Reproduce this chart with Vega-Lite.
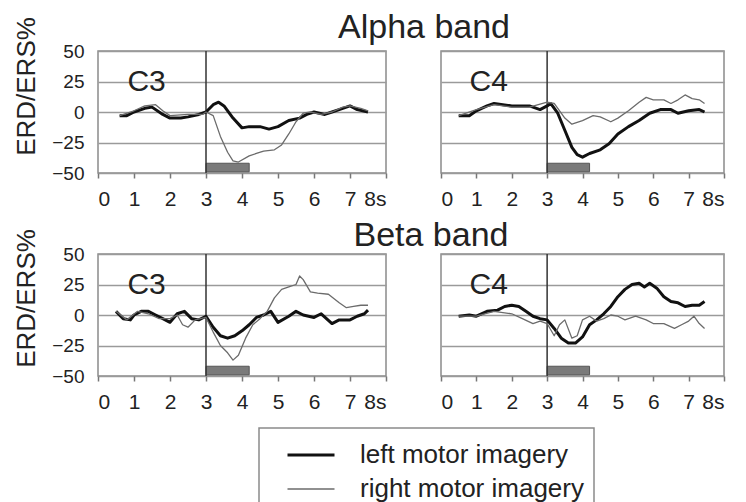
{
  "$schema": "https://vega.github.io/schema/vega-lite/v6.json",
  "padding": {"left": 12, "top": 9, "right": 0, "bottom": 0},
  "background": "white",
  "config": {
    "font": "Liberation Sans",
    "view": {"stroke": "#8a8a8a", "strokeWidth": 1.5},
    "axis": {"labelFont": "Liberation Sans", "titleFont": "Liberation Sans", "labelColor": "#222", "titleColor": "#222", "domain": false, "titleFontWeight": "normal", "labelOverlap": false},
    "axisX": {"grid": false, "tickSize": 5, "tickColor": "#777", "tickWidth": 1.5, "labelFontSize": 21, "labelPadding": 10, "labelExpr": "datum.value == 8 ? '8s' : datum.label"},
    "axisY": {"grid": true, "gridColor": "#9a9a9a", "gridWidth": 1.5, "ticks": false, "labelFontSize": 19, "labelPadding": 14},
    "legend": {
      "orient": "none", "legendX": 161, "legendY": 377,
      "strokeColor": "#8a8a8a", "strokeWidth": 1.5, "padding": 10,
      "symbolType": "stroke", "symbolSize": 2209, "symbolOffset": 17,
      "clipHeight": 34, "rowPadding": 0, "labelOffset": 24,
      "labelFontSize": 26, "labelFont": "Liberation Sans", "labelColor": "#222",
      "labelLimit": 400, "title": null
    }
  },
  "datasets": {
    "erd": [
      {"band":"A","ch":"C3","type":"left motor imagery","t":0.6,"v":-3},
      {"band":"A","ch":"C3","type":"left motor imagery","t":0.8,"v":-3},
      {"band":"A","ch":"C3","type":"left motor imagery","t":1.0,"v":0},
      {"band":"A","ch":"C3","type":"left motor imagery","t":1.3,"v":3},
      {"band":"A","ch":"C3","type":"left motor imagery","t":1.5,"v":4},
      {"band":"A","ch":"C3","type":"left motor imagery","t":1.8,"v":-2},
      {"band":"A","ch":"C3","type":"left motor imagery","t":2.0,"v":-5},
      {"band":"A","ch":"C3","type":"left motor imagery","t":2.3,"v":-5},
      {"band":"A","ch":"C3","type":"left motor imagery","t":2.5,"v":-4},
      {"band":"A","ch":"C3","type":"left motor imagery","t":2.8,"v":-2},
      {"band":"A","ch":"C3","type":"left motor imagery","t":3.0,"v":0},
      {"band":"A","ch":"C3","type":"left motor imagery","t":3.2,"v":6},
      {"band":"A","ch":"C3","type":"left motor imagery","t":3.35,"v":8},
      {"band":"A","ch":"C3","type":"left motor imagery","t":3.5,"v":5},
      {"band":"A","ch":"C3","type":"left motor imagery","t":3.75,"v":-5},
      {"band":"A","ch":"C3","type":"left motor imagery","t":4.0,"v":-13},
      {"band":"A","ch":"C3","type":"left motor imagery","t":4.2,"v":-12},
      {"band":"A","ch":"C3","type":"left motor imagery","t":4.5,"v":-12},
      {"band":"A","ch":"C3","type":"left motor imagery","t":4.75,"v":-14},
      {"band":"A","ch":"C3","type":"left motor imagery","t":5.0,"v":-12},
      {"band":"A","ch":"C3","type":"left motor imagery","t":5.3,"v":-7},
      {"band":"A","ch":"C3","type":"left motor imagery","t":5.6,"v":-5},
      {"band":"A","ch":"C3","type":"left motor imagery","t":5.8,"v":-2},
      {"band":"A","ch":"C3","type":"left motor imagery","t":6.0,"v":0},
      {"band":"A","ch":"C3","type":"left motor imagery","t":6.3,"v":-2},
      {"band":"A","ch":"C3","type":"left motor imagery","t":6.5,"v":0},
      {"band":"A","ch":"C3","type":"left motor imagery","t":6.8,"v":3},
      {"band":"A","ch":"C3","type":"left motor imagery","t":7.0,"v":5},
      {"band":"A","ch":"C3","type":"left motor imagery","t":7.2,"v":2},
      {"band":"A","ch":"C3","type":"left motor imagery","t":7.5,"v":0},

      {"band":"A","ch":"C3","type":"right motor imagery","t":0.6,"v":-3},
      {"band":"A","ch":"C3","type":"right motor imagery","t":1.0,"v":1},
      {"band":"A","ch":"C3","type":"right motor imagery","t":1.3,"v":5},
      {"band":"A","ch":"C3","type":"right motor imagery","t":1.6,"v":6},
      {"band":"A","ch":"C3","type":"right motor imagery","t":1.8,"v":1},
      {"band":"A","ch":"C3","type":"right motor imagery","t":2.0,"v":-3},
      {"band":"A","ch":"C3","type":"right motor imagery","t":2.5,"v":-2},
      {"band":"A","ch":"C3","type":"right motor imagery","t":2.9,"v":-2},
      {"band":"A","ch":"C3","type":"right motor imagery","t":3.0,"v":0},
      {"band":"A","ch":"C3","type":"right motor imagery","t":3.2,"v":-3},
      {"band":"A","ch":"C3","type":"right motor imagery","t":3.4,"v":-20},
      {"band":"A","ch":"C3","type":"right motor imagery","t":3.6,"v":-33},
      {"band":"A","ch":"C3","type":"right motor imagery","t":3.75,"v":-40},
      {"band":"A","ch":"C3","type":"right motor imagery","t":3.9,"v":-41},
      {"band":"A","ch":"C3","type":"right motor imagery","t":4.2,"v":-36},
      {"band":"A","ch":"C3","type":"right motor imagery","t":4.4,"v":-34},
      {"band":"A","ch":"C3","type":"right motor imagery","t":4.6,"v":-32},
      {"band":"A","ch":"C3","type":"right motor imagery","t":4.9,"v":-31},
      {"band":"A","ch":"C3","type":"right motor imagery","t":5.1,"v":-27},
      {"band":"A","ch":"C3","type":"right motor imagery","t":5.3,"v":-18},
      {"band":"A","ch":"C3","type":"right motor imagery","t":5.5,"v":-8},
      {"band":"A","ch":"C3","type":"right motor imagery","t":5.7,"v":-1},
      {"band":"A","ch":"C3","type":"right motor imagery","t":5.9,"v":0},
      {"band":"A","ch":"C3","type":"right motor imagery","t":6.2,"v":-2},
      {"band":"A","ch":"C3","type":"right motor imagery","t":6.5,"v":0},
      {"band":"A","ch":"C3","type":"right motor imagery","t":6.8,"v":4},
      {"band":"A","ch":"C3","type":"right motor imagery","t":7.0,"v":5},
      {"band":"A","ch":"C3","type":"right motor imagery","t":7.3,"v":3},
      {"band":"A","ch":"C3","type":"right motor imagery","t":7.5,"v":1},

      {"band":"A","ch":"C4","type":"left motor imagery","t":0.5,"v":-3},
      {"band":"A","ch":"C4","type":"left motor imagery","t":0.8,"v":-3},
      {"band":"A","ch":"C4","type":"left motor imagery","t":1.0,"v":1},
      {"band":"A","ch":"C4","type":"left motor imagery","t":1.3,"v":5},
      {"band":"A","ch":"C4","type":"left motor imagery","t":1.5,"v":7},
      {"band":"A","ch":"C4","type":"left motor imagery","t":2.0,"v":5},
      {"band":"A","ch":"C4","type":"left motor imagery","t":2.5,"v":5},
      {"band":"A","ch":"C4","type":"left motor imagery","t":2.8,"v":2},
      {"band":"A","ch":"C4","type":"left motor imagery","t":3.0,"v":5},
      {"band":"A","ch":"C4","type":"left motor imagery","t":3.1,"v":7},
      {"band":"A","ch":"C4","type":"left motor imagery","t":3.3,"v":-1},
      {"band":"A","ch":"C4","type":"left motor imagery","t":3.5,"v":-15},
      {"band":"A","ch":"C4","type":"left motor imagery","t":3.7,"v":-29},
      {"band":"A","ch":"C4","type":"left motor imagery","t":3.85,"v":-35},
      {"band":"A","ch":"C4","type":"left motor imagery","t":4.0,"v":-37},
      {"band":"A","ch":"C4","type":"left motor imagery","t":4.2,"v":-34},
      {"band":"A","ch":"C4","type":"left motor imagery","t":4.5,"v":-31},
      {"band":"A","ch":"C4","type":"left motor imagery","t":4.75,"v":-26},
      {"band":"A","ch":"C4","type":"left motor imagery","t":5.0,"v":-18},
      {"band":"A","ch":"C4","type":"left motor imagery","t":5.3,"v":-12},
      {"band":"A","ch":"C4","type":"left motor imagery","t":5.6,"v":-7},
      {"band":"A","ch":"C4","type":"left motor imagery","t":5.9,"v":-1},
      {"band":"A","ch":"C4","type":"left motor imagery","t":6.2,"v":2},
      {"band":"A","ch":"C4","type":"left motor imagery","t":6.5,"v":2},
      {"band":"A","ch":"C4","type":"left motor imagery","t":6.7,"v":-1},
      {"band":"A","ch":"C4","type":"left motor imagery","t":7.0,"v":1},
      {"band":"A","ch":"C4","type":"left motor imagery","t":7.3,"v":2},
      {"band":"A","ch":"C4","type":"left motor imagery","t":7.45,"v":0},

      {"band":"A","ch":"C4","type":"right motor imagery","t":0.5,"v":-3},
      {"band":"A","ch":"C4","type":"right motor imagery","t":1.0,"v":2},
      {"band":"A","ch":"C4","type":"right motor imagery","t":1.5,"v":6},
      {"band":"A","ch":"C4","type":"right motor imagery","t":2.0,"v":4},
      {"band":"A","ch":"C4","type":"right motor imagery","t":2.5,"v":4},
      {"band":"A","ch":"C4","type":"right motor imagery","t":3.0,"v":8},
      {"band":"A","ch":"C4","type":"right motor imagery","t":3.2,"v":7},
      {"band":"A","ch":"C4","type":"right motor imagery","t":3.5,"v":-5},
      {"band":"A","ch":"C4","type":"right motor imagery","t":3.7,"v":-10},
      {"band":"A","ch":"C4","type":"right motor imagery","t":4.0,"v":-7},
      {"band":"A","ch":"C4","type":"right motor imagery","t":4.3,"v":-3},
      {"band":"A","ch":"C4","type":"right motor imagery","t":4.5,"v":-4},
      {"band":"A","ch":"C4","type":"right motor imagery","t":4.8,"v":-8},
      {"band":"A","ch":"C4","type":"right motor imagery","t":5.0,"v":-5},
      {"band":"A","ch":"C4","type":"right motor imagery","t":5.3,"v":1},
      {"band":"A","ch":"C4","type":"right motor imagery","t":5.6,"v":8},
      {"band":"A","ch":"C4","type":"right motor imagery","t":5.8,"v":12},
      {"band":"A","ch":"C4","type":"right motor imagery","t":6.0,"v":10},
      {"band":"A","ch":"C4","type":"right motor imagery","t":6.3,"v":10},
      {"band":"A","ch":"C4","type":"right motor imagery","t":6.5,"v":7},
      {"band":"A","ch":"C4","type":"right motor imagery","t":6.7,"v":10},
      {"band":"A","ch":"C4","type":"right motor imagery","t":6.9,"v":14},
      {"band":"A","ch":"C4","type":"right motor imagery","t":7.1,"v":11},
      {"band":"A","ch":"C4","type":"right motor imagery","t":7.3,"v":10},
      {"band":"A","ch":"C4","type":"right motor imagery","t":7.45,"v":7},

      {"band":"B","ch":"C3","type":"left motor imagery","t":0.5,"v":3},
      {"band":"B","ch":"C3","type":"left motor imagery","t":0.7,"v":-3},
      {"band":"B","ch":"C3","type":"left motor imagery","t":0.9,"v":-4},
      {"band":"B","ch":"C3","type":"left motor imagery","t":1.0,"v":0},
      {"band":"B","ch":"C3","type":"left motor imagery","t":1.2,"v":3},
      {"band":"B","ch":"C3","type":"left motor imagery","t":1.4,"v":3},
      {"band":"B","ch":"C3","type":"left motor imagery","t":1.6,"v":0},
      {"band":"B","ch":"C3","type":"left motor imagery","t":1.8,"v":-3},
      {"band":"B","ch":"C3","type":"left motor imagery","t":2.0,"v":-6},
      {"band":"B","ch":"C3","type":"left motor imagery","t":2.2,"v":1},
      {"band":"B","ch":"C3","type":"left motor imagery","t":2.4,"v":3},
      {"band":"B","ch":"C3","type":"left motor imagery","t":2.6,"v":-3},
      {"band":"B","ch":"C3","type":"left motor imagery","t":2.8,"v":-4},
      {"band":"B","ch":"C3","type":"left motor imagery","t":3.0,"v":-1},
      {"band":"B","ch":"C3","type":"left motor imagery","t":3.2,"v":-10},
      {"band":"B","ch":"C3","type":"left motor imagery","t":3.4,"v":-17},
      {"band":"B","ch":"C3","type":"left motor imagery","t":3.6,"v":-19},
      {"band":"B","ch":"C3","type":"left motor imagery","t":3.8,"v":-17},
      {"band":"B","ch":"C3","type":"left motor imagery","t":4.0,"v":-13},
      {"band":"B","ch":"C3","type":"left motor imagery","t":4.2,"v":-8},
      {"band":"B","ch":"C3","type":"left motor imagery","t":4.4,"v":-2},
      {"band":"B","ch":"C3","type":"left motor imagery","t":4.6,"v":0},
      {"band":"B","ch":"C3","type":"left motor imagery","t":4.8,"v":3},
      {"band":"B","ch":"C3","type":"left motor imagery","t":5.0,"v":-6},
      {"band":"B","ch":"C3","type":"left motor imagery","t":5.3,"v":-1},
      {"band":"B","ch":"C3","type":"left motor imagery","t":5.5,"v":3},
      {"band":"B","ch":"C3","type":"left motor imagery","t":5.7,"v":0},
      {"band":"B","ch":"C3","type":"left motor imagery","t":6.0,"v":-2},
      {"band":"B","ch":"C3","type":"left motor imagery","t":6.2,"v":1},
      {"band":"B","ch":"C3","type":"left motor imagery","t":6.5,"v":-7},
      {"band":"B","ch":"C3","type":"left motor imagery","t":6.7,"v":-4},
      {"band":"B","ch":"C3","type":"left motor imagery","t":7.0,"v":-4},
      {"band":"B","ch":"C3","type":"left motor imagery","t":7.2,"v":-1},
      {"band":"B","ch":"C3","type":"left motor imagery","t":7.4,"v":1},
      {"band":"B","ch":"C3","type":"left motor imagery","t":7.5,"v":4},

      {"band":"B","ch":"C3","type":"right motor imagery","t":0.5,"v":3},
      {"band":"B","ch":"C3","type":"right motor imagery","t":0.8,"v":-4},
      {"band":"B","ch":"C3","type":"right motor imagery","t":1.1,"v":3},
      {"band":"B","ch":"C3","type":"right motor imagery","t":1.4,"v":1},
      {"band":"B","ch":"C3","type":"right motor imagery","t":1.7,"v":-3},
      {"band":"B","ch":"C3","type":"right motor imagery","t":2.0,"v":-3},
      {"band":"B","ch":"C3","type":"right motor imagery","t":2.2,"v":0},
      {"band":"B","ch":"C3","type":"right motor imagery","t":2.35,"v":-8},
      {"band":"B","ch":"C3","type":"right motor imagery","t":2.5,"v":-10},
      {"band":"B","ch":"C3","type":"right motor imagery","t":2.7,"v":-4},
      {"band":"B","ch":"C3","type":"right motor imagery","t":3.0,"v":-2},
      {"band":"B","ch":"C3","type":"right motor imagery","t":3.2,"v":-14},
      {"band":"B","ch":"C3","type":"right motor imagery","t":3.4,"v":-25},
      {"band":"B","ch":"C3","type":"right motor imagery","t":3.6,"v":-31},
      {"band":"B","ch":"C3","type":"right motor imagery","t":3.75,"v":-37},
      {"band":"B","ch":"C3","type":"right motor imagery","t":3.9,"v":-33},
      {"band":"B","ch":"C3","type":"right motor imagery","t":4.1,"v":-19},
      {"band":"B","ch":"C3","type":"right motor imagery","t":4.3,"v":-8},
      {"band":"B","ch":"C3","type":"right motor imagery","t":4.5,"v":-3},
      {"band":"B","ch":"C3","type":"right motor imagery","t":4.7,"v":3},
      {"band":"B","ch":"C3","type":"right motor imagery","t":4.9,"v":14},
      {"band":"B","ch":"C3","type":"right motor imagery","t":5.1,"v":21},
      {"band":"B","ch":"C3","type":"right motor imagery","t":5.3,"v":23},
      {"band":"B","ch":"C3","type":"right motor imagery","t":5.5,"v":25},
      {"band":"B","ch":"C3","type":"right motor imagery","t":5.6,"v":32},
      {"band":"B","ch":"C3","type":"right motor imagery","t":5.7,"v":29},
      {"band":"B","ch":"C3","type":"right motor imagery","t":5.9,"v":19},
      {"band":"B","ch":"C3","type":"right motor imagery","t":6.1,"v":18},
      {"band":"B","ch":"C3","type":"right motor imagery","t":6.4,"v":17},
      {"band":"B","ch":"C3","type":"right motor imagery","t":6.7,"v":10},
      {"band":"B","ch":"C3","type":"right motor imagery","t":6.9,"v":6},
      {"band":"B","ch":"C3","type":"right motor imagery","t":7.1,"v":7},
      {"band":"B","ch":"C3","type":"right motor imagery","t":7.3,"v":8},
      {"band":"B","ch":"C3","type":"right motor imagery","t":7.5,"v":8},

      {"band":"B","ch":"C4","type":"left motor imagery","t":0.5,"v":-1},
      {"band":"B","ch":"C4","type":"left motor imagery","t":0.8,"v":0},
      {"band":"B","ch":"C4","type":"left motor imagery","t":1.0,"v":-1},
      {"band":"B","ch":"C4","type":"left motor imagery","t":1.3,"v":3},
      {"band":"B","ch":"C4","type":"left motor imagery","t":1.6,"v":4},
      {"band":"B","ch":"C4","type":"left motor imagery","t":1.8,"v":7},
      {"band":"B","ch":"C4","type":"left motor imagery","t":2.0,"v":8},
      {"band":"B","ch":"C4","type":"left motor imagery","t":2.2,"v":7},
      {"band":"B","ch":"C4","type":"left motor imagery","t":2.4,"v":3},
      {"band":"B","ch":"C4","type":"left motor imagery","t":2.6,"v":-1},
      {"band":"B","ch":"C4","type":"left motor imagery","t":2.8,"v":-3},
      {"band":"B","ch":"C4","type":"left motor imagery","t":3.0,"v":-4},
      {"band":"B","ch":"C4","type":"left motor imagery","t":3.2,"v":-11},
      {"band":"B","ch":"C4","type":"left motor imagery","t":3.4,"v":-19},
      {"band":"B","ch":"C4","type":"left motor imagery","t":3.6,"v":-23},
      {"band":"B","ch":"C4","type":"left motor imagery","t":3.8,"v":-23},
      {"band":"B","ch":"C4","type":"left motor imagery","t":4.0,"v":-18},
      {"band":"B","ch":"C4","type":"left motor imagery","t":4.2,"v":-8},
      {"band":"B","ch":"C4","type":"left motor imagery","t":4.4,"v":-4},
      {"band":"B","ch":"C4","type":"left motor imagery","t":4.6,"v":1},
      {"band":"B","ch":"C4","type":"left motor imagery","t":4.8,"v":7},
      {"band":"B","ch":"C4","type":"left motor imagery","t":5.0,"v":15},
      {"band":"B","ch":"C4","type":"left motor imagery","t":5.2,"v":21},
      {"band":"B","ch":"C4","type":"left motor imagery","t":5.4,"v":25},
      {"band":"B","ch":"C4","type":"left motor imagery","t":5.6,"v":26},
      {"band":"B","ch":"C4","type":"left motor imagery","t":5.75,"v":23},
      {"band":"B","ch":"C4","type":"left motor imagery","t":5.9,"v":26},
      {"band":"B","ch":"C4","type":"left motor imagery","t":6.1,"v":22},
      {"band":"B","ch":"C4","type":"left motor imagery","t":6.3,"v":15},
      {"band":"B","ch":"C4","type":"left motor imagery","t":6.5,"v":11},
      {"band":"B","ch":"C4","type":"left motor imagery","t":6.7,"v":10},
      {"band":"B","ch":"C4","type":"left motor imagery","t":6.9,"v":7},
      {"band":"B","ch":"C4","type":"left motor imagery","t":7.1,"v":8},
      {"band":"B","ch":"C4","type":"left motor imagery","t":7.3,"v":8},
      {"band":"B","ch":"C4","type":"left motor imagery","t":7.45,"v":11},

      {"band":"B","ch":"C4","type":"right motor imagery","t":0.5,"v":-1},
      {"band":"B","ch":"C4","type":"right motor imagery","t":1.0,"v":-1},
      {"band":"B","ch":"C4","type":"right motor imagery","t":1.5,"v":3},
      {"band":"B","ch":"C4","type":"right motor imagery","t":2.0,"v":1},
      {"band":"B","ch":"C4","type":"right motor imagery","t":2.3,"v":-3},
      {"band":"B","ch":"C4","type":"right motor imagery","t":2.6,"v":-7},
      {"band":"B","ch":"C4","type":"right motor imagery","t":2.8,"v":-5},
      {"band":"B","ch":"C4","type":"right motor imagery","t":3.0,"v":-7},
      {"band":"B","ch":"C4","type":"right motor imagery","t":3.2,"v":-17},
      {"band":"B","ch":"C4","type":"right motor imagery","t":3.35,"v":-8},
      {"band":"B","ch":"C4","type":"right motor imagery","t":3.5,"v":-4},
      {"band":"B","ch":"C4","type":"right motor imagery","t":3.7,"v":-19},
      {"band":"B","ch":"C4","type":"right motor imagery","t":3.85,"v":-17},
      {"band":"B","ch":"C4","type":"right motor imagery","t":4.0,"v":-4},
      {"band":"B","ch":"C4","type":"right motor imagery","t":4.2,"v":-1},
      {"band":"B","ch":"C4","type":"right motor imagery","t":4.4,"v":-5},
      {"band":"B","ch":"C4","type":"right motor imagery","t":4.6,"v":-3},
      {"band":"B","ch":"C4","type":"right motor imagery","t":4.8,"v":0},
      {"band":"B","ch":"C4","type":"right motor imagery","t":5.0,"v":-1},
      {"band":"B","ch":"C4","type":"right motor imagery","t":5.2,"v":-4},
      {"band":"B","ch":"C4","type":"right motor imagery","t":5.5,"v":-1},
      {"band":"B","ch":"C4","type":"right motor imagery","t":5.8,"v":-4},
      {"band":"B","ch":"C4","type":"right motor imagery","t":6.0,"v":-7},
      {"band":"B","ch":"C4","type":"right motor imagery","t":6.3,"v":-7},
      {"band":"B","ch":"C4","type":"right motor imagery","t":6.6,"v":-11},
      {"band":"B","ch":"C4","type":"right motor imagery","t":6.8,"v":-8},
      {"band":"B","ch":"C4","type":"right motor imagery","t":7.0,"v":-5},
      {"band":"B","ch":"C4","type":"right motor imagery","t":7.15,"v":-1},
      {"band":"B","ch":"C4","type":"right motor imagery","t":7.3,"v":-7},
      {"band":"B","ch":"C4","type":"right motor imagery","t":7.45,"v":-11}
    ]
  },
  "columns": 2,
  "bounds": "flush",
  "spacing": {"row": 81, "column": 55},
  "concat": [
    {
      "width": 288, "height": 122,
      "title": {"text": "Alpha band", "frame": "group", "anchor": "end", "align": "center", "dx": 38, "baseline": "alphabetic", "offset": -55, "fontSize": 34, "fontWeight": "normal", "font": "Liberation Sans", "color": "#222"},
      "layer": [
        {"data": {"values": [{}]}, "mark": {"type": "rect", "color": "#7a7a7a", "stroke": "#555", "strokeWidth": 1},
          "encoding": {
            "x": {"datum": 3, "type": "quantitative", "scale": {"domain": [0, 8], "nice": false}, "axis": {"values": [0,1,2,3,4,5,6,7,8], "title": null}},
            "x2": {"datum": 4.2},
            "y": {"datum": -49, "type": "quantitative", "scale": {"domain": [-50, 50], "nice": false}, "axis": {"values": [-50,-25,0,25,50], "title": "ERD/ERS%", "titleFontSize": 26, "titleX": -72, "titleY": 35, "titleAlign": "center", "titleBaseline": "middle"}},
            "y2": {"datum": -42}}},
        {"data": {"values": [{}]}, "mark": {"type": "rule", "color": "#333", "strokeWidth": 1.5},
          "encoding": {"x": {"datum": 3, "type": "quantitative", "axis": {"values": [0,1,2,3,4,5,6,7,8], "title": null}}}},
        {"data": {"name": "erd"}, "transform": [{"filter": "datum.band == 'A' && datum.ch == 'C3'"}], "mark": {"type": "line", "strokeJoin": "round"},
          "encoding": {
            "x": {"field": "t", "type": "quantitative", "axis": {"values": [0,1,2,3,4,5,6,7,8], "title": null}},
            "y": {"field": "v", "type": "quantitative", "axis": {"values": [-50,-25,0,25,50], "title": "ERD/ERS%", "titleFontSize": 26, "titleX": -72, "titleY": 35, "titleAlign": "center", "titleBaseline": "middle"}},
            "color": {"field": "type", "type": "nominal", "scale": {"domain": ["left motor imagery", "right motor imagery"], "range": ["#111111", "#6b6b6b"]}},
            "strokeWidth": {"field": "type", "type": "nominal", "scale": {"domain": ["left motor imagery", "right motor imagery"], "range": [3, 1.3]}}
          }},
        {"data": {"values": [{}]}, "mark": {"type": "text", "fontSize": 30, "font": "Liberation Sans", "color": "#222", "baseline": "middle", "align": "center"},
          "encoding": {
            "x": {"datum": 1.35, "type": "quantitative", "axis": {"values": [0,1,2,3,4,5,6,7,8], "title": null}},
            "y": {"datum": 25, "type": "quantitative", "axis": {"values": [-50,-25,0,25,50], "title": "ERD/ERS%", "titleFontSize": 26, "titleX": -72, "titleY": 35, "titleAlign": "center", "titleBaseline": "middle"}},
            "text": {"value": "C3"}}}
      ]
    },
    {
      "width": 283, "height": 122,
      "layer": [
        {"data": {"values": [{}]}, "mark": {"type": "rect", "color": "#7a7a7a", "stroke": "#555", "strokeWidth": 1},
          "encoding": {
            "x": {"datum": 3, "type": "quantitative", "scale": {"domain": [0, 8], "nice": false}, "axis": {"values": [0,1,2,3,4,5,6,7,8], "title": null}},
            "x2": {"datum": 4.2},
            "y": {"datum": -49, "type": "quantitative", "scale": {"domain": [-50, 50], "nice": false}, "axis": {"values": [-50,-25,0,25,50], "labels": false, "title": null}},
            "y2": {"datum": -42}}},
        {"data": {"values": [{}]}, "mark": {"type": "rule", "color": "#333", "strokeWidth": 1.5},
          "encoding": {"x": {"datum": 3, "type": "quantitative", "axis": {"values": [0,1,2,3,4,5,6,7,8], "title": null}}}},
        {"data": {"name": "erd"}, "transform": [{"filter": "datum.band == 'A' && datum.ch == 'C4'"}], "mark": {"type": "line", "strokeJoin": "round"},
          "encoding": {
            "x": {"field": "t", "type": "quantitative", "axis": {"values": [0,1,2,3,4,5,6,7,8], "title": null}},
            "y": {"field": "v", "type": "quantitative", "axis": {"values": [-50,-25,0,25,50], "labels": false, "title": null}},
            "color": {"field": "type", "type": "nominal", "scale": {"domain": ["left motor imagery", "right motor imagery"], "range": ["#111111", "#6b6b6b"]}},
            "strokeWidth": {"field": "type", "type": "nominal", "scale": {"domain": ["left motor imagery", "right motor imagery"], "range": [3, 1.3]}}
          }},
        {"data": {"values": [{}]}, "mark": {"type": "text", "fontSize": 30, "font": "Liberation Sans", "color": "#222", "baseline": "middle", "align": "center"},
          "encoding": {
            "x": {"datum": 1.35, "type": "quantitative", "axis": {"values": [0,1,2,3,4,5,6,7,8], "title": null}},
            "y": {"datum": 25, "type": "quantitative", "axis": {"values": [-50,-25,0,25,50], "labels": false, "title": null}},
            "text": {"value": "C4"}}}
      ]
    },
    {
      "width": 288, "height": 122,
      "title": {"text": "Beta band", "frame": "group", "anchor": "end", "align": "center", "dx": 45, "baseline": "alphabetic", "offset": -51, "fontSize": 34, "fontWeight": "normal", "font": "Liberation Sans", "color": "#222"},
      "layer": [
        {"data": {"values": [{}]}, "mark": {"type": "rect", "color": "#7a7a7a", "stroke": "#555", "strokeWidth": 1},
          "encoding": {
            "x": {"datum": 3, "type": "quantitative", "scale": {"domain": [0, 8], "nice": false}, "axis": {"values": [0,1,2,3,4,5,6,7,8], "title": null}},
            "x2": {"datum": 4.2},
            "y": {"datum": -49, "type": "quantitative", "scale": {"domain": [-50, 50], "nice": false}, "axis": {"values": [-50,-25,0,25,50], "title": "ERD/ERS%", "titleFontSize": 26, "titleX": -72, "titleY": 44, "titleAlign": "center", "titleBaseline": "middle"}},
            "y2": {"datum": -42}}},
        {"data": {"values": [{}]}, "mark": {"type": "rule", "color": "#333", "strokeWidth": 1.5},
          "encoding": {"x": {"datum": 3, "type": "quantitative", "axis": {"values": [0,1,2,3,4,5,6,7,8], "title": null}}}},
        {"data": {"name": "erd"}, "transform": [{"filter": "datum.band == 'B' && datum.ch == 'C3'"}], "mark": {"type": "line", "strokeJoin": "round"},
          "encoding": {
            "x": {"field": "t", "type": "quantitative", "axis": {"values": [0,1,2,3,4,5,6,7,8], "title": null}},
            "y": {"field": "v", "type": "quantitative", "axis": {"values": [-50,-25,0,25,50], "title": "ERD/ERS%", "titleFontSize": 26, "titleX": -72, "titleY": 44, "titleAlign": "center", "titleBaseline": "middle"}},
            "color": {"field": "type", "type": "nominal", "scale": {"domain": ["left motor imagery", "right motor imagery"], "range": ["#111111", "#6b6b6b"]}},
            "strokeWidth": {"field": "type", "type": "nominal", "scale": {"domain": ["left motor imagery", "right motor imagery"], "range": [3, 1.3]}}
          }},
        {"data": {"values": [{}]}, "mark": {"type": "text", "fontSize": 30, "font": "Liberation Sans", "color": "#222", "baseline": "middle", "align": "center"},
          "encoding": {
            "x": {"datum": 1.35, "type": "quantitative", "axis": {"values": [0,1,2,3,4,5,6,7,8], "title": null}},
            "y": {"datum": 25, "type": "quantitative", "axis": {"values": [-50,-25,0,25,50], "title": "ERD/ERS%", "titleFontSize": 26, "titleX": -72, "titleY": 44, "titleAlign": "center", "titleBaseline": "middle"}},
            "text": {"value": "C3"}}}
      ]
    },
    {
      "width": 283, "height": 122,
      "layer": [
        {"data": {"values": [{}]}, "mark": {"type": "rect", "color": "#7a7a7a", "stroke": "#555", "strokeWidth": 1},
          "encoding": {
            "x": {"datum": 3, "type": "quantitative", "scale": {"domain": [0, 8], "nice": false}, "axis": {"values": [0,1,2,3,4,5,6,7,8], "title": null}},
            "x2": {"datum": 4.2},
            "y": {"datum": -49, "type": "quantitative", "scale": {"domain": [-50, 50], "nice": false}, "axis": {"values": [-50,-25,0,25,50], "labels": false, "title": null}},
            "y2": {"datum": -42}}},
        {"data": {"values": [{}]}, "mark": {"type": "rule", "color": "#333", "strokeWidth": 1.5},
          "encoding": {"x": {"datum": 3, "type": "quantitative", "axis": {"values": [0,1,2,3,4,5,6,7,8], "title": null}}}},
        {"data": {"name": "erd"}, "transform": [{"filter": "datum.band == 'B' && datum.ch == 'C4'"}], "mark": {"type": "line", "strokeJoin": "round"},
          "encoding": {
            "x": {"field": "t", "type": "quantitative", "axis": {"values": [0,1,2,3,4,5,6,7,8], "title": null}},
            "y": {"field": "v", "type": "quantitative", "axis": {"values": [-50,-25,0,25,50], "labels": false, "title": null}},
            "color": {"field": "type", "type": "nominal", "scale": {"domain": ["left motor imagery", "right motor imagery"], "range": ["#111111", "#6b6b6b"]}},
            "strokeWidth": {"field": "type", "type": "nominal", "scale": {"domain": ["left motor imagery", "right motor imagery"], "range": [3, 1.3]}}
          }},
        {"data": {"values": [{}]}, "mark": {"type": "text", "fontSize": 30, "font": "Liberation Sans", "color": "#222", "baseline": "middle", "align": "center"},
          "encoding": {
            "x": {"datum": 1.35, "type": "quantitative", "axis": {"values": [0,1,2,3,4,5,6,7,8], "title": null}},
            "y": {"datum": 25, "type": "quantitative", "axis": {"values": [-50,-25,0,25,50], "labels": false, "title": null}},
            "text": {"value": "C4"}}}
      ]
    }
  ]
}
